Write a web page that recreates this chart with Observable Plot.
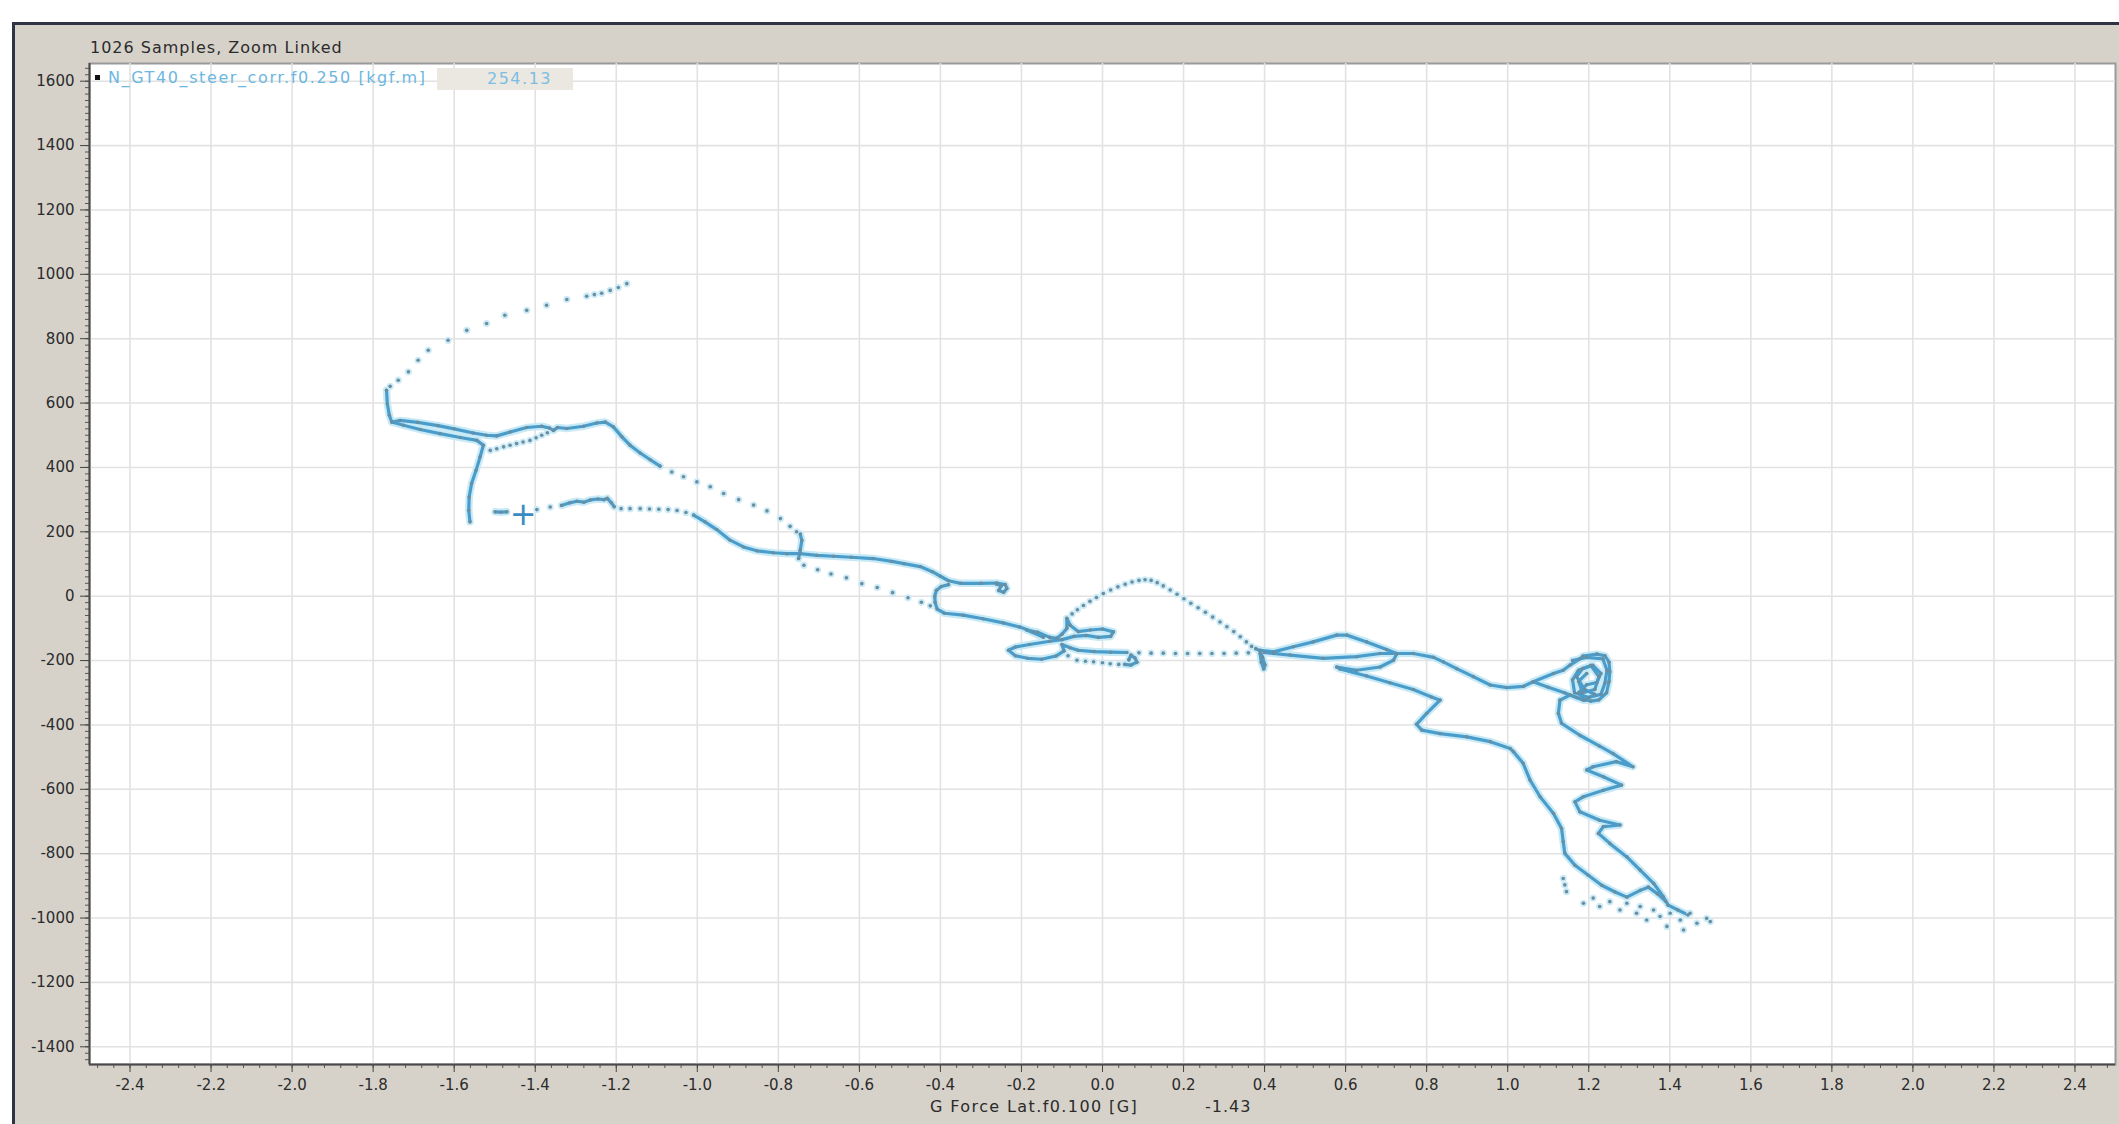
<!DOCTYPE html>
<html><head><meta charset="utf-8">
<script src="https://cdn.jsdelivr.net/npm/d3@7"></script>
<script src="https://cdn.jsdelivr.net/npm/@observablehq/plot@0.6"></script>
<style>
html,body{margin:0;padding:0;background:#fff;}
#wrap{position:relative;width:2119px;height:1124px;overflow:hidden;font-family:"DejaVu Sans",sans-serif;}
#panel{position:absolute;left:12px;top:22px;right:0;bottom:0;background:#d6d2ca;border-top:3px solid #2e3444;border-left:3px solid #2e3444;}
#chart{position:absolute;left:0;top:0;}
.lbl{position:absolute;font-size:16px;color:#2b2b2b;white-space:nowrap;line-height:18px;}
</style></head><body>
<div id="wrap">
<div id="panel"></div>
<div id="chart"></div>
<div class="lbl" style="left:90px;top:39px;letter-spacing:1px;">1026 Samples, Zoom Linked</div>
<div style="position:absolute;left:95px;top:75px;width:5px;height:5px;background:#111;"></div>
<div class="lbl" style="left:108px;top:69px;color:#6db7e0;letter-spacing:1.6px;">N_GT40_steer_corr.f0.250 [kgf.m]</div>
<div style="position:absolute;left:437px;top:68px;width:136px;height:22px;background:#ebe8e1;"></div>
<div class="lbl" style="left:487px;top:70px;color:#7cbde2;letter-spacing:1.5px;">254.13</div>
<div class="lbl" style="left:930px;top:1098px;letter-spacing:1.4px;">G Force Lat.f0.100 [G]</div>
<div class="lbl" style="left:1205px;top:1098px;letter-spacing:1px;">-1.43</div>
</div>
<script>
// ---- axis ticks ----
const xMajor = [-2.4,-2.2,-2.0,-1.8,-1.6,-1.4,-1.2,-1.0,-0.8,-0.6,-0.4,-0.2,0.0,0.2,0.4,0.6,0.8,1.0,1.2,1.4,1.6,1.8,2.0,2.2,2.4];
const yMajor = [-1400,-1200,-1000,-800,-600,-400,-200,0,200,400,600,800,1000,1200,1400,1600];
const xMinor = d3.range(-62, 63).map(k => k * 0.04);
const yMinor = d3.range(-72, 83).map(k => k * 20);

// ---- cursor ----
const cursorLat = -1.43;
const cursorSteer = 254.13;

// ---- samples: [G Force Lat, steer torque] ----
const arcTop = [[-1.174,971],[-1.195,959],[-1.215,950],[-1.236,941],[-1.254,937],[-1.273,932],[-1.322,922],[-1.372,904],[-1.421,888],[-1.475,873],[-1.520,847],[-1.569,826],[-1.615,795],[-1.664,764],[-1.689,733],[-1.713,697],[-1.738,671],[-1.758,652]];
const leftDrop = [[-1.767,640],[-1.765,598],[-1.760,562],[-1.754,541],[-1.725,531],[-1.684,518],[-1.635,505],[-1.585,493],[-1.544,484],[-1.528,469],[-1.536,433],[-1.546,391],[-1.557,350],[-1.563,308],[-1.564,267],[-1.561,231]];
const ribbonUpper = [[-1.754,541],[-1.734,546],[-1.690,540],[-1.640,530],[-1.600,520],[-1.553,507],[-1.520,500],[-1.495,498],[-1.462,510],[-1.421,524],[-1.384,528],[-1.365,522],[-1.355,515],[-1.345,524],[-1.322,521],[-1.281,528],[-1.248,538],[-1.227,541],[-1.207,526],[-1.186,495],[-1.166,469],[-1.141,445],[-1.116,424],[-1.092,404]];
const ribbonLower = [[-1.511,453],[-1.495,458],[-1.478,464],[-1.462,469],[-1.446,474],[-1.430,479],[-1.413,484],[-1.398,492],[-1.384,500],[-1.370,508]];
const descent1 = [[-1.063,386],[-1.034,371],[-1.001,355],[-0.968,340],[-0.935,319],[-0.898,300],[-0.861,283],[-0.828,265],[-0.795,241],[-0.771,217],[-0.755,200]];
const vertical = [[-0.746,193],[-0.742,174],[-0.746,143],[-0.750,117]];
const descent2 = [[-0.737,96],[-0.703,82],[-0.670,69],[-0.632,57],[-0.594,39],[-0.556,27],[-0.518,11],[-0.480,-5],[-0.447,-19],[-0.425,-30]];
const cursorDash = [[-1.499,262],[-1.485,261],[-1.470,262]];
const lowerSparse = [[-1.396,269],[-1.363,277]];
const lowerCluster = [[-1.335,282],[-1.315,290],[-1.297,295],[-1.280,292],[-1.264,299],[-1.245,302],[-1.230,300],[-1.222,304],[-1.212,290],[-1.205,278]];
const lowerDotted = [[-1.188,272],[-1.166,272],[-1.141,272],[-1.118,271],[-1.095,270],[-1.072,269],[-1.050,266],[-1.028,260]];
const lowerTrack = [[-1.009,252],[-0.981,231],[-0.952,207],[-0.919,174],[-0.886,153],[-0.853,141],[-0.812,135],[-0.779,132],[-0.746,132],[-0.705,127],[-0.664,124],[-0.620,121],[-0.566,117],[-0.520,108],[-0.490,101],[-0.450,92],[-0.420,76],[-0.400,62],[-0.380,48],[-0.350,40],[-0.300,40],[-0.261,41],[-0.240,36],[-0.236,24],[-0.244,12],[-0.256,18],[-0.250,32],[-0.262,38]];
const cShape = [[-0.380,36],[-0.398,30],[-0.410,18],[-0.414,0],[-0.413,-20],[-0.408,-40],[-0.390,-53],[-0.344,-59],[-0.295,-70],[-0.245,-83],[-0.204,-96],[-0.171,-111],[-0.146,-127]];
const star = [[-0.146,-127],[-0.187,-105],[-0.160,-112],[-0.130,-128],[-0.113,-131],[-0.100,-118],[-0.088,-100],[-0.088,-69],[-0.080,-90],[-0.060,-110],[-0.030,-105],[0.000,-102],[0.027,-111],[0.020,-125],[-0.010,-128],[-0.040,-122],[-0.070,-125],[-0.100,-135],[-0.130,-140],[-0.180,-150],[-0.215,-158],[-0.232,-168],[-0.215,-185],[-0.185,-193],[-0.150,-196],[-0.115,-186],[-0.095,-170],[-0.100,-150],[-0.080,-160],[-0.060,-168],[-0.020,-172],[0.020,-174],[0.060,-175]];
const starLower = [[-0.085,-185],[-0.063,-199],[-0.042,-202],[-0.022,-204],[0.000,-207],[0.019,-210],[0.040,-212]];
const starBlob = [[0.055,-212],[0.070,-214],[0.085,-205],[0.080,-192],[0.070,-183],[0.065,-198]];
const hDotted = [[0.090,-176],[0.120,-177],[0.150,-177],[0.180,-178],[0.210,-178],[0.240,-178],[0.270,-178],[0.300,-178],[0.330,-177],[0.360,-176]];
const peakArc = [[-0.075,-55],[-0.062,-42],[-0.047,-29],[-0.031,-16],[-0.015,-4],[0.002,8],[0.020,19],[0.038,29],[0.056,37],[0.073,44],[0.090,49],[0.105,51],[0.120,49],[0.135,42],[0.150,32],[0.167,19],[0.184,6],[0.201,-8],[0.218,-22],[0.236,-36],[0.254,-50],[0.272,-65],[0.290,-80],[0.307,-95],[0.324,-110],[0.340,-126],[0.355,-142],[0.368,-156]];
const feature04 = [[0.378,-163],[0.389,-170],[0.395,-190],[0.401,-214],[0.398,-226],[0.392,-205],[0.389,-178]];
const loop06 = [[0.389,-168],[0.422,-173],[0.471,-157],[0.520,-142],[0.578,-121],[0.603,-121],[0.652,-142],[0.701,-166],[0.726,-178],[0.685,-178],[0.627,-188],[0.545,-193],[0.463,-183],[0.422,-178],[0.400,-175]];
const lowerRight = [[0.726,-180],[0.718,-199],[0.685,-220],[0.627,-230],[0.578,-220],[0.586,-226],[0.652,-248],[0.709,-269],[0.767,-290],[0.812,-313],[0.833,-323],[0.800,-364],[0.775,-398],[0.788,-416],[0.833,-427],[0.899,-437],[0.957,-452],[1.006,-473],[1.014,-483],[1.038,-519],[1.055,-571],[1.080,-623],[1.113,-675],[1.133,-722],[1.137,-763],[1.141,-799],[1.166,-836],[1.199,-867],[1.232,-898],[1.265,-919],[1.294,-935],[1.327,-914],[1.347,-904],[1.370,-925],[1.390,-948]];
const upperRight = [[0.726,-178],[0.767,-178],[0.817,-190],[0.841,-204],[0.874,-225],[0.915,-250],[0.957,-276],[0.998,-284],[1.039,-280],[1.063,-266],[1.113,-240],[1.137,-230],[1.154,-214],[1.178,-195],[1.186,-186],[1.220,-180],[1.240,-185],[1.250,-205],[1.252,-235],[1.250,-265],[1.244,-300],[1.225,-322],[1.205,-326],[1.187,-320],[1.175,-300],[1.195,-275],[1.220,-268],[1.230,-240],[1.210,-215],[1.185,-225],[1.170,-250],[1.190,-290],[1.215,-305],[1.187,-323],[1.154,-307],[1.129,-323],[1.125,-364],[1.133,-395],[1.178,-432],[1.227,-466],[1.260,-489],[1.309,-530],[1.268,-514],[1.211,-530],[1.195,-540],[1.236,-561],[1.281,-587],[1.236,-603],[1.187,-623],[1.166,-639],[1.178,-670],[1.227,-696],[1.277,-711],[1.236,-716],[1.224,-737],[1.252,-768],[1.294,-810],[1.327,-851],[1.360,-892],[1.384,-934],[1.396,-960],[1.420,-975],[1.445,-990]];
const blob12 = [[1.160,-200],[1.195,-190],[1.235,-195],[1.245,-230],[1.240,-270],[1.230,-305],[1.200,-315],[1.165,-300],[1.160,-260],[1.175,-230],[1.205,-215],[1.225,-250],[1.215,-290],[1.185,-300],[1.175,-265],[1.195,-240]];
const triangleLower = [[1.063,-266],[1.100,-283],[1.140,-300],[1.170,-315],[1.190,-323]];
const bottomScatter = [[1.137,-877],[1.141,-897],[1.145,-918],[1.187,-954],[1.211,-938],[1.227,-964],[1.252,-949],[1.277,-975],[1.294,-954],[1.318,-985],[1.327,-964],[1.343,-1006],[1.360,-975],[1.376,-995],[1.393,-1026],[1.401,-985],[1.426,-1006],[1.434,-1037],[1.450,-985],[1.467,-1016],[1.491,-1001],[1.500,-1011]];

const traces = [
  ["arcTop", arcTop, false], ["leftDrop", leftDrop, true], ["ribbonUpper", ribbonUpper, true],
  ["ribbonLower", ribbonLower, false], ["descent1", descent1, false], ["vertical", vertical, true],
  ["descent2", descent2, false], ["cursorDash", cursorDash, true], ["lowerSparse", lowerSparse, false],
  ["lowerCluster", lowerCluster, true], ["lowerDotted", lowerDotted, false], ["lowerTrack", lowerTrack, true],
  ["cShape", cShape, true], ["star", star, true], ["starLower", starLower, false], ["starBlob", starBlob, true],
  ["hDotted", hDotted, false], ["peakArc", peakArc, false], ["feature04", feature04, true],
  ["loop06", loop06, true], ["lowerRight", lowerRight, true], ["upperRight", upperRight, true],
  ["blob12", blob12, true], ["triangleLower", triangleLower, true], ["bottomScatter", bottomScatter, false]
];
const rows = traces.flatMap(([name, pts, dense]) => pts.map(([x, y]) => ({x, y, trace: name, dense})));
const denseRows = rows.filter(d => d.dense);
const sparseRows = rows.filter(d => !d.dense);

const chart = Plot.plot({
  width: 2119, height: 1124,
  marginLeft: 89, marginRight: 4, marginTop: 63, marginBottom: 60,
  x: {domain: [-2.5, 2.5]},
  y: {domain: [-1455, 1655]},
  style: {background: "transparent", fontFamily: "DejaVu Sans", fontSize: "15px", color: "#2b2b2b"},
  marks: [
    Plot.frame({fill: "#ffffff", stroke: "#9a9a9a", strokeWidth: 2}),
    Plot.gridX(xMajor, {stroke: "#e2e2e2", strokeOpacity: 1, strokeWidth: 1.6}),
    Plot.gridY(yMajor, {stroke: "#e2e2e2", strokeOpacity: 1, strokeWidth: 1.6}),
    Plot.axisX(xMinor, {tickSize: 4, tickFormat: () => "", stroke: "#555", label: null}),
    Plot.axisX(xMajor, {tickSize: 8, tickPadding: 7, tickFormat: d => d.toFixed(1), stroke: "#444", label: null}),
    Plot.axisY(yMinor, {tickSize: 4, tickFormat: () => "", stroke: "#555", label: null}),
    Plot.axisY(yMajor, {tickSize: 9, tickPadding: 6, tickFormat: d => String(d), stroke: "#444", label: null}),
    Plot.ruleY([-1455], {stroke: "#4a4a4a", strokeWidth: 2}),
    Plot.ruleX([-2.5], {stroke: "#4a4a4a", strokeWidth: 2}),
    Plot.line(denseRows, {x: "x", y: "y", z: "trace", stroke: "#c8eaf7", strokeWidth: 7.5, strokeLinejoin: "round", strokeLinecap: "round"}),
    Plot.line(denseRows, {x: "x", y: "y", z: "trace", stroke: "#4a9dcb", strokeWidth: 3.2, strokeLinejoin: "round", strokeLinecap: "round"}),
    Plot.dot(sparseRows, {x: "x", y: "y", r: 3.6, fill: "#cdebf7"}),
    Plot.dot(rows, {x: "x", y: "y", r: 1.8, fill: "#6a8ea0"}),
    Plot.text([{x: cursorLat, y: cursorSteer}], {x: "x", y: "y", text: () => "+", fontSize: 32, fill: "#3a8cc0"})
  ]
});
document.getElementById("chart").appendChild(chart);
</script>
</body></html>
